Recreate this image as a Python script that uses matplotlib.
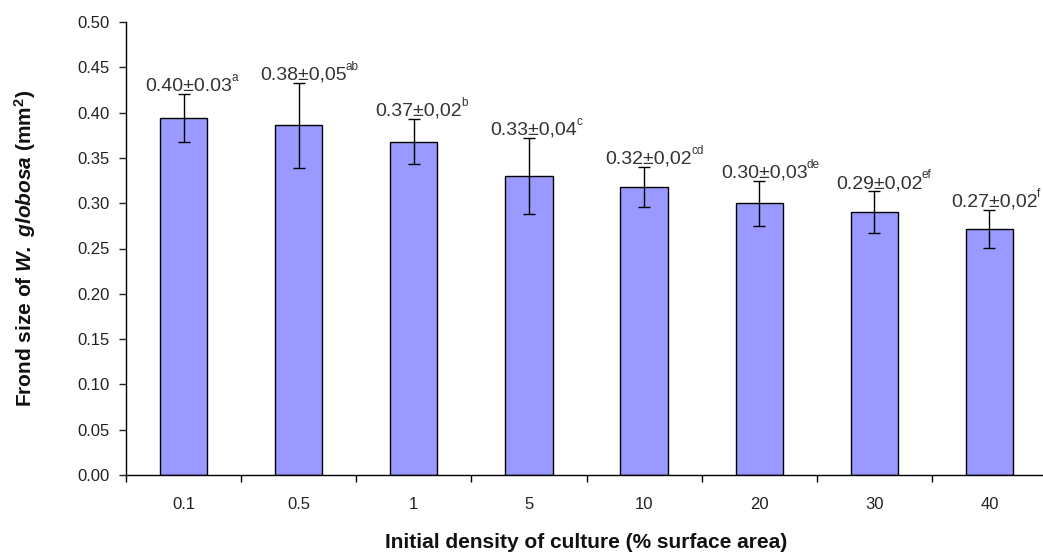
import matplotlib
matplotlib.use("Agg")
import matplotlib.pyplot as plt
import numpy as np

plt.rcParams['font.family'] = ['Liberation Sans', 'DejaVu Sans']
plt.rcParams['mathtext.fontset'] = 'custom'
plt.rcParams['mathtext.rm'] = 'Liberation Sans'
plt.rcParams['mathtext.it'] = 'Liberation Sans:italic'
plt.rcParams['mathtext.bf'] = 'Liberation Sans:bold'
plt.rcParams['mathtext.bfit'] = 'Liberation Sans:bold:italic'

categories = ["0.1", "0.5", "1", "5", "10", "20", "30", "40"]
means = [0.394, 0.386, 0.368, 0.330, 0.318, 0.300, 0.290, 0.272]
errors = [0.027, 0.047, 0.025, 0.042, 0.022, 0.025, 0.023, 0.021]
label_main = ["0.40±0.03", "0.38±0,05", "0.37±0,02", "0.33±0,04",
              "0.32±0,02", "0.30±0,03", "0.29±0,02", "0.27±0,02"]
label_sup = ["a", "ab", "b", "c", "cd", "de", "ef", "f"]
yticks = [0.00, 0.05, 0.10, 0.15, 0.20, 0.25, 0.30, 0.35, 0.40, 0.45, 0.50]

fig = plt.figure(figsize=(10.43, 5.56), dpi=100)
ax = fig.add_axes([126/1043, 81/556, 921/1043, 453/556])

x = np.arange(len(categories))
ax.bar(x, means, width=0.41, color='#9999FF', edgecolor='black', linewidth=1.0, zorder=2)
ax.errorbar(x, means, yerr=errors, fmt='none', ecolor='black', elinewidth=1.0,
            capsize=4, capthick=1.0, zorder=3)

for xi, m, e, lm, ls in zip(x, means, errors, label_main, label_sup):
    t = ax.annotate(lm, xy=(xi, m + e), xytext=(5, 3),
                    textcoords='offset pixels', ha='center', va='baseline',
                    fontsize=14, color='#333333')
    ax.annotate(ls, xy=(1, 1), xycoords=t, xytext=(-1, 6),
                textcoords='offset pixels', ha='left', va='top',
                fontsize=8.5, color='#333333')

ax.set_xlim(-0.5, len(categories) - 0.5)
ax.set_ylim(0, 0.5)
ax.set_yticks(yticks)
ax.set_yticklabels([f"{v:.2f}" for v in yticks])
ax.set_xticks(x)
ax.set_xticklabels(categories)
ax.set_xticks(np.arange(len(categories) + 1) - 0.5, minor=True)
ax.tick_params(axis='x', which='major', length=0, pad=16, labelsize=12, colors='#222222')
ax.tick_params(axis='x', which='minor', length=5, direction='out', width=1)
ax.tick_params(axis='y', length=5, direction='out', width=1, pad=7, labelsize=12, colors='#222222')
ax.spines['top'].set_visible(False)
ax.spines['right'].set_visible(False)
ax.spines['left'].set_linewidth(1)
ax.spines['bottom'].set_linewidth(1)

fig.text(586/1043, 1 - 543/556, "Initial density of culture (% surface area)",
         ha='center', va='center', fontsize=15, fontweight='bold', color='#111111')
fig.text(25/1043, 1 - 248/556,
         r"Frond size of $\mathbfit{W.\ globosa}$ (mm$^{\mathbf{2}}$)",
         ha='center', va='center', rotation=90, fontsize=15, fontweight='bold', color='#111111')

fig.savefig("out.png", dpi=100)
